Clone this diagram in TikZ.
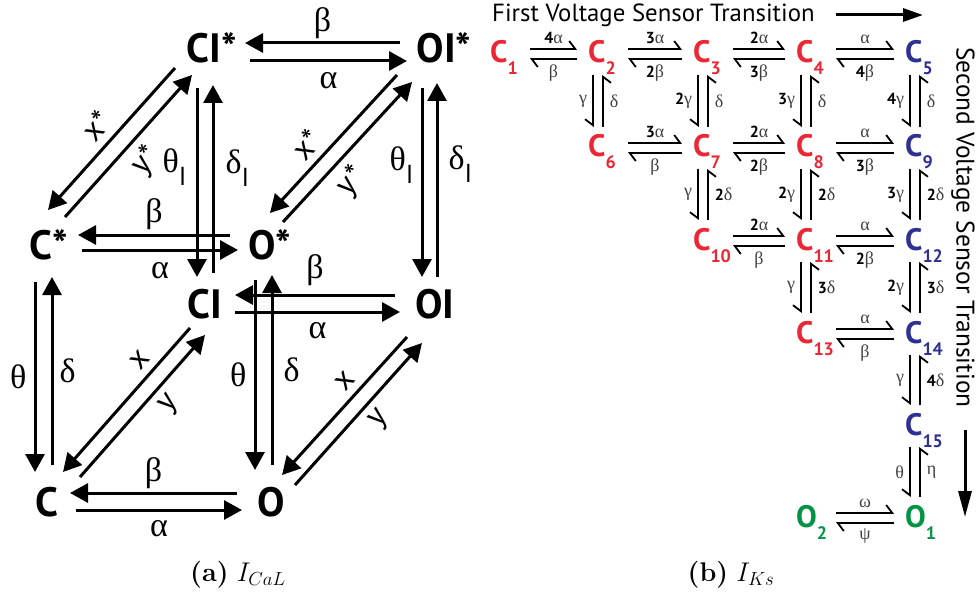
\documentclass[tikz,border=0pt]{standalone}
\usepackage{fix-cm}
\usepackage{fontspec}
\usetikzlibrary{arrows.meta}
\newfontfamily\sansfam{PT Sans}
\newfontfamily\grkfam{Liberation Serif}
\definecolor{stred}{RGB}{236,38,52}
\definecolor{stblue}{RGB}{46,49,146}
\definecolor{stgreen}{RGB}{0,148,68}
\newcommand{\stsub}[1]{\raisebox{-12pt}{\fontsize{18}{18}\selectfont #1}}
\newcommand{\nb}[1]{{\sansfam\bfseries\fontsize{16}{16}\selectfont\color{black}#1}}
\newcommand{\subI}{\raisebox{-13pt}{\sansfam\fontsize{26}{26}\selectfont I}}
\tikzset{
  >={Triangle[length=18pt,width=19pt]},
  state/.style={inner sep=0pt,font=\sansfam\bfseries\fontsize{41}{41}\selectfont},
  arr/.style={->,line width=3pt},
  rate/.style={inner sep=0pt,font=\grkfam\fontsize{34}{34}\selectfont},
  xrate/.style={inner sep=0pt,font=\sansfam\fontsize{32}{32}\selectfont,sloped},
  chan/.style={inner sep=0pt,anchor=base west,text=#1,font=\sansfam\bfseries\fontsize{31}{31}\selectfont},
  hp/.style={-{Straight Barb[left,length=6pt,width=16pt]},line width=1.8pt},
  vp/.style={-{Straight Barb[right,length=6pt,width=16pt]},line width=1.8pt},
  lab/.style={inner sep=0pt,text=black!75,font=\grkfam\fontsize{18}{18}\selectfont},
  title/.style={inner sep=0pt,font=\sansfam},
  bigarr/.style={-{Triangle[length=#1,width=13pt]},line width=3pt},
  bigarr/.default=20pt,
}
\begin{document}
\begin{tikzpicture}[x=1pt,y=-1pt]
\useasboundingbox (0,0) rectangle (979,599);
% I_CaL states
\node[state] (CIs) at (212,48) {CI*};
\node[state] (OIs) at (444,48) {OI*};
\node[state] (Cs) at (49,245) {C*};
\node[state] (Os) at (270,245) {O*};
\node[state] (CI) at (205,304) {CI};
\node[state] (OI) at (435,304) {OI};
\node[state] (C) at (47,502) {C};
\node[state] (O) at (271,502) {O};
% horizontal transitions
\draw[arr] ([shift={(-44,-5)}]OIs.center) -- node[rate,above=3pt]{β} ([shift={(33,-5)}]CIs.center);
\draw[arr] ([shift={(38,13)}]CIs.center) -- node[rate,below=10pt]{α} ([shift={(-37,13)}]OIs.center);
\draw[arr] ([shift={(-40,-10)}]Os.center) -- node[rate,above=4pt]{β} ([shift={(29,-10)}]Cs.center);
\draw[arr] ([shift={(33,5)}]Cs.center) -- node[rate,below=11pt]{α} ([shift={(-32,5)}]Os.center);
\draw[arr] ([shift={(-40,-9)}]OI.center) -- node[rate,above=8pt]{β} ([shift={(30,-9)}]CI.center);
\draw[arr] ([shift={(30,8)}]CI.center) -- node[rate,below=9pt]{α} ([shift={(-35,8)}]OI.center);
\draw[arr] ([shift={(-34,-9)}]O.center) -- node[rate,above=3pt]{β} ([shift={(23,-9)}]C.center);
\draw[arr] ([shift={(29,8)}]C.center) -- node[rate,below=9pt]{α} ([shift={(-29,8)}]O.center);
% vertical transitions
\draw[arr] ([shift={(-15,40)}]CIs.center) -- node[rate,left=9pt,pos=0.42]{θ\subI} ([shift={(-8,-27)}]CI.center);
\draw[arr] ([shift={(8,-31)}]CI.center) -- node[rate,right=11pt,pos=0.56]{δ\subI} ([shift={(1,37)}]CIs.center);
\draw[arr] ([shift={(-22,40)}]OIs.center) -- node[rate,left=7pt,pos=0.41]{θ\subI} ([shift={(-13,-27)}]OI.center);
\draw[arr] ([shift={(2,-27)}]OI.center) -- node[rate,right=10pt,pos=0.58]{δ\subI} ([shift={(-7,35)}]OIs.center);
\draw[arr] ([shift={(-14,37)}]Cs.center) -- node[rate,left=7pt]{θ} ([shift={(-12,-30)}]C.center);
\draw[arr] ([shift={(5,-37)}]C.center) -- node[rate,right=6pt]{δ} ([shift={(3,32)}]Cs.center);
\draw[arr] ([shift={(-15,35)}]Os.center) -- node[rate,left=7pt]{θ} ([shift={(-16,-32)}]O.center);
\draw[arr] ([shift={(1,-37)}]O.center) -- node[rate,right=10pt]{δ} ([shift={(2,30)}]Os.center);
% diagonal transitions
\draw[arr] ([shift={(-37,20)}]CIs.center) -- node[xrate,above=7pt]{x*} ([shift={(-1,-35)}]Cs.center);
\draw[arr] ([shift={(16,-28)}]Cs.center) -- node[xrate,below=7pt]{y*} ([shift={(-20,27)}]CIs.center);
\draw[arr] ([shift={(-47,27)}]OIs.center) -- node[xrate,above=7pt,pos=0.6]{x*} ([shift={(0,-32)}]Os.center);
\draw[arr] ([shift={(13,-23)}]Os.center) -- node[xrate,below=7pt,pos=0.4]{y*} ([shift={(-32,34)}]OIs.center);
\draw[arr] ([shift={(-15,24)}]CI.center) -- node[xrate,above=7pt,pos=0.3]{x} ([shift={(16,-30)}]C.center);
\draw[arr] ([shift={(33,-25)}]C.center) -- node[xrate,below=7pt,pos=0.6]{y} ([shift={(0,31)}]CI.center);
\draw[arr] ([shift={(-28,33)}]OI.center) -- node[xrate,above=7pt,pos=0.4]{x} ([shift={(11,-27)}]O.center);
\draw[arr] ([shift={(24,-17)}]O.center) -- node[xrate,below=7pt,pos=0.55]{y} ([shift={(-13,39)}]OI.center);
% I_Ks chain
\node[title,anchor=west] (first) at (492,15) {\fontsize{24.8}{24.8}\selectfont First Voltage Sensor Transition};
\coordinate (firsttip) at (923,15);
\draw[bigarr] ([xshift=21pt]first.east) -- (firsttip);
\node[title,anchor=west,rotate=-90] (second) at (963,47) {\fontsize{25.4}{25.4}\selectfont Second Voltage Sensor Transition};
\coordinate (secondtip) at (965,517);
\draw[bigarr=26pt] ([shift={(2,22)}]second.east) -- (secondtip);
\foreach \n/\x/\y/\c in {1/490/63/stred,2/588/63/stred,3/693/63/stred,4/796/63/stred,5/905/63/stblue,
  6/588/157/stred,7/693/157/stred,8/796/157/stred,9/905/157/stblue,
  10/693/250/stred,11/796/250/stred,12/905/250/stblue,
  13/796/343/stred,14/905/343/stblue,15/905/435/stblue}
  \node[chan=\c] (c\n) at (\x,\y) {C\stsub{\n}};
\node[chan=stgreen] (o2) at (796,527) {O\stsub{2}};
\node[chan=stgreen] (o1) at (905,527) {O\stsub{1}};
\foreach \a/\b/\t/\u in {c1/c2/\nb{4}α/β,c2/c3/\nb{3}α/\nb{2}β,c3/c4/\nb{2}α/\nb{3}β,c4/c5/α/\nb{4}β,
  c6/c7/\nb{3}α/β,c7/c8/\nb{2}α/\nb{2}β,c8/c9/α/\nb{3}β,
  c10/c11/\nb{2}α/β,c11/c12/α/\nb{2}β,c13/c14/α/β,o2/o1/ω/ψ}{
  \draw[hp] ([shift={(40,-14)}]\a.base west) -- node[lab,above=4pt]{\t} ([shift={(-11,-14)}]\b.base west);
  \draw[hp] ([shift={(-11,-4)}]\b.base west) -- node[lab,below=5pt]{\u} ([shift={(40,-4)}]\a.base west);
}
\foreach \a/\b/\l/\r in {c2/c6/γ/δ,c3/c7/\nb{2}γ/δ,c4/c8/\nb{3}γ/δ,c5/c9/\nb{4}γ/δ,
  c7/c10/γ/\nb{2}δ,c8/c11/\nb{2}γ/\nb{2}δ,c9/c12/\nb{3}γ/\nb{2}δ,
  c11/c13/γ/\nb{3}δ,c12/c14/\nb{2}γ/\nb{3}δ,c14/c15/γ/\nb{4}δ,c15/o1/θ/η}{
  \draw[vp] ([shift={(5,12)}]\a.base west) -- node[lab,left=5pt]{\l} ([shift={(5,-30)}]\b.base west);
  \draw[vp] ([shift={(15,-30)}]\b.base west) -- node[lab,right=6pt]{\r} ([shift={(15,12)}]\a.base west);
}
% captions
\node (capa) at (238,575) {\fontsize{27}{30}\selectfont\textbf{(a)} $I_{CaL}$};
\node (capb) at (731,575) {\fontsize{27}{30}\selectfont\textbf{(b)} $I_{Ks}$};
\end{tikzpicture}
\end{document}
